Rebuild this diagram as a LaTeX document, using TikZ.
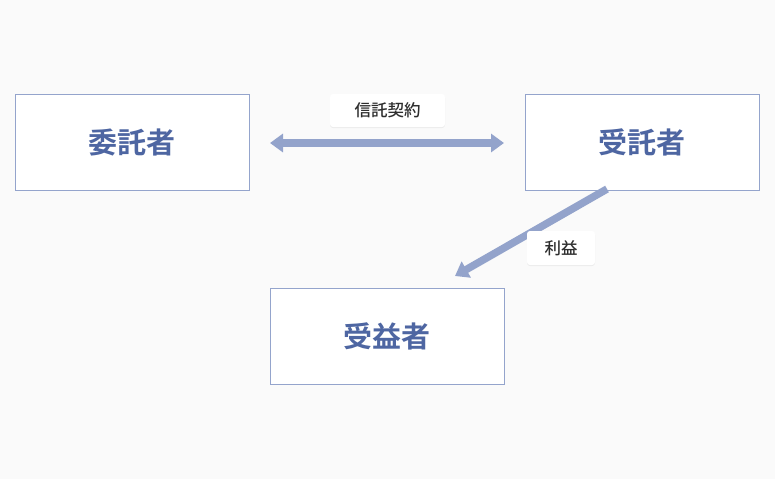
\documentclass[tikz,border=0pt]{standalone}
\usepackage{fontspec}
\newfontfamily\cjk{Noto Sans CJK JP Medium}
\newfontfamily\cjkb{Noto Sans CJK JP Bold}
\usetikzlibrary{arrows.meta,shadows}
\definecolor{bg}{HTML}{FAFAFA}
\definecolor{boxline}{HTML}{94A4CC}
\definecolor{arrowc}{HTML}{93A3CB}
\definecolor{maintext}{HTML}{4E66A2}
\definecolor{labtext}{HTML}{2E2E2E}
\tikzset{
  party/.style={draw=boxline, line width=0.8pt, fill=white, minimum width=234pt, minimum height=96pt, inner sep=0pt, text=maintext, font=\cjkb\fontsize{29}{32}\selectfont},
  lab/.style={fill=white, rounded corners=3pt, minimum width=115pt, minimum height=33pt, inner sep=0pt, text=labtext, font=\cjk\fontsize{16.5}{18}\selectfont, drop shadow={shadow xshift=0pt, shadow yshift=-1pt, opacity=0.12}},
  flow/.style={draw=arrowc, line width=7.5pt},
}
\begin{document}
\begin{tikzpicture}[x=1pt,y=-1pt]
\fill[bg] (0,0) rectangle (775,479);
\useasboundingbox (0,0) rectangle (775,479);
\node[party] (settlor) at (132,142) {委託者};
\node[party] (trustee) at (642,142) {受託者};
\node[party] (benef) at (387,336) {受益者};
\node[lab] (contract) at (387.5,110.5) {信託契約};
\coordinate (dstart) at (607,189);
\coordinate (dend) at (455,276);
\draw[flow, {Triangle[length=13pt,width=18pt]}-{Triangle[length=13pt,width=18pt]}] (270,143) -- (504,143);
\draw[flow, -{Triangle[length=13pt,width=18pt]}] (dstart) -- (dend);
\node[lab, minimum width=68pt, minimum height=34pt] (benefit) at (561,248) {利益};
\end{tikzpicture}
\end{document}
